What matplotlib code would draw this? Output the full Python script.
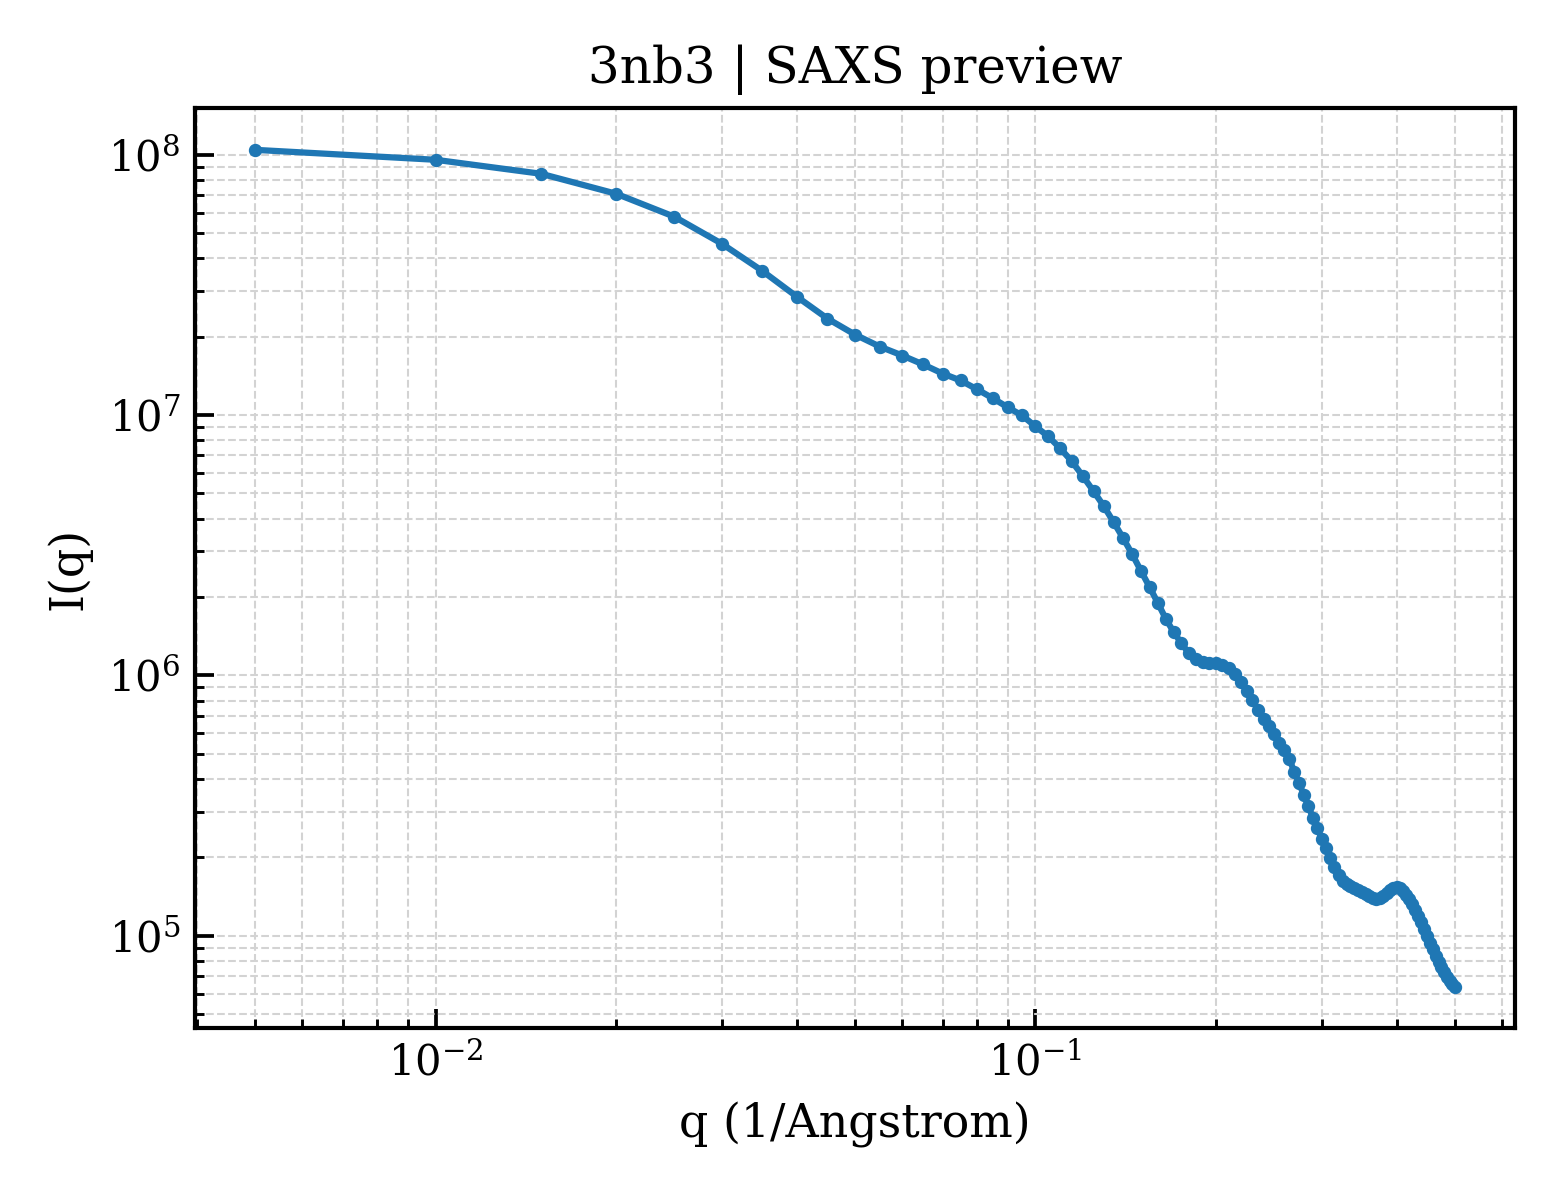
import numpy as np
import matplotlib
matplotlib.use("Agg")
import matplotlib.pyplot as plt

# SAXS profile (q in 1/Angstrom, intensity in a.u.)
q = np.round(np.arange(1, 101) * 0.005, 3)
intensity = [
    1.045e8, 9.57e7, 8.455e7, 7.087e7, 5.784e7, 4.556e7, 3.589e7, 2.853e7, 2.349e7, 2.040e7,
    1.834e7, 1.694e7, 1.565e7, 1.445e7, 1.359e7, 1.255e7, 1.159e7, 1.070e7, 9.97e6, 9.05e6,
    8.29e6, 7.45e6, 6.64e6, 5.82e6, 5.10e6, 4.47e6, 3.88e6, 3.37e6, 2.92e6, 2.515e6,
    2.184e6, 1.896e6, 1.646e6, 1.467e6, 1.332e6, 1.219e6, 1.156e6, 1.126e6, 1.116e6, 1.116e6,
    1.096e6, 1.068e6, 1.012e6, 9.43e5, 8.71e5, 8.04e5, 7.37e5, 6.81e5, 6.40e5, 5.96e5,
    5.51e5, 5.17e5, 4.78e5, 4.26e5, 3.87e5, 3.48e5, 3.155e5, 2.84e5, 2.60e5, 2.357e5,
    2.177e5, 1.993e5, 1.842e5, 1.716e5, 1.627e5, 1.585e5, 1.557e5, 1.529e5, 1.502e5, 1.476e5,
    1.450e5, 1.425e5, 1.400e5, 1.388e5, 1.400e5, 1.425e5, 1.463e5, 1.502e5, 1.529e5, 1.543e5,
    1.529e5, 1.489e5, 1.437e5, 1.388e5, 1.328e5, 1.260e5, 1.194e5, 1.133e5, 1.065e5, 1.001e5,
    9.41e4, 8.92e4, 8.39e4, 7.96e4, 7.61e4, 7.28e4, 6.97e4, 6.73e4, 6.55e4, 6.38e4,
]

plt.rcParams["font.family"] = "DejaVu Serif"
plt.rcParams["mathtext.fontset"] = "dejavuserif"

fig, ax = plt.subplots(figsize=(5.2, 4.0), dpi=300)
fig.subplots_adjust(left=0.125, right=0.971, bottom=0.143, top=0.91)

ax.plot(q, intensity, marker="o", markersize=2.2, linewidth=1.5, color="#1f77b4")
ax.set_xscale("log")
ax.set_yscale("log")

ax.set_title("3nb3 | SAXS preview", fontsize=12)
ax.set_xlabel("q (1/Angstrom)", fontsize=11)
ax.set_ylabel("I(q)", fontsize=11)

ax.tick_params(which="both", direction="in", labelsize=10)
ax.tick_params(which="major", length=4.5, width=0.9)
ax.tick_params(which="minor", length=2.2, width=0.7)
for s in ax.spines.values():
    s.set_linewidth(1.0)

ax.grid(True, which="both", ls="--", lw=0.5, color="#d3d3d3")

fig.savefig("out.png", dpi=300)
